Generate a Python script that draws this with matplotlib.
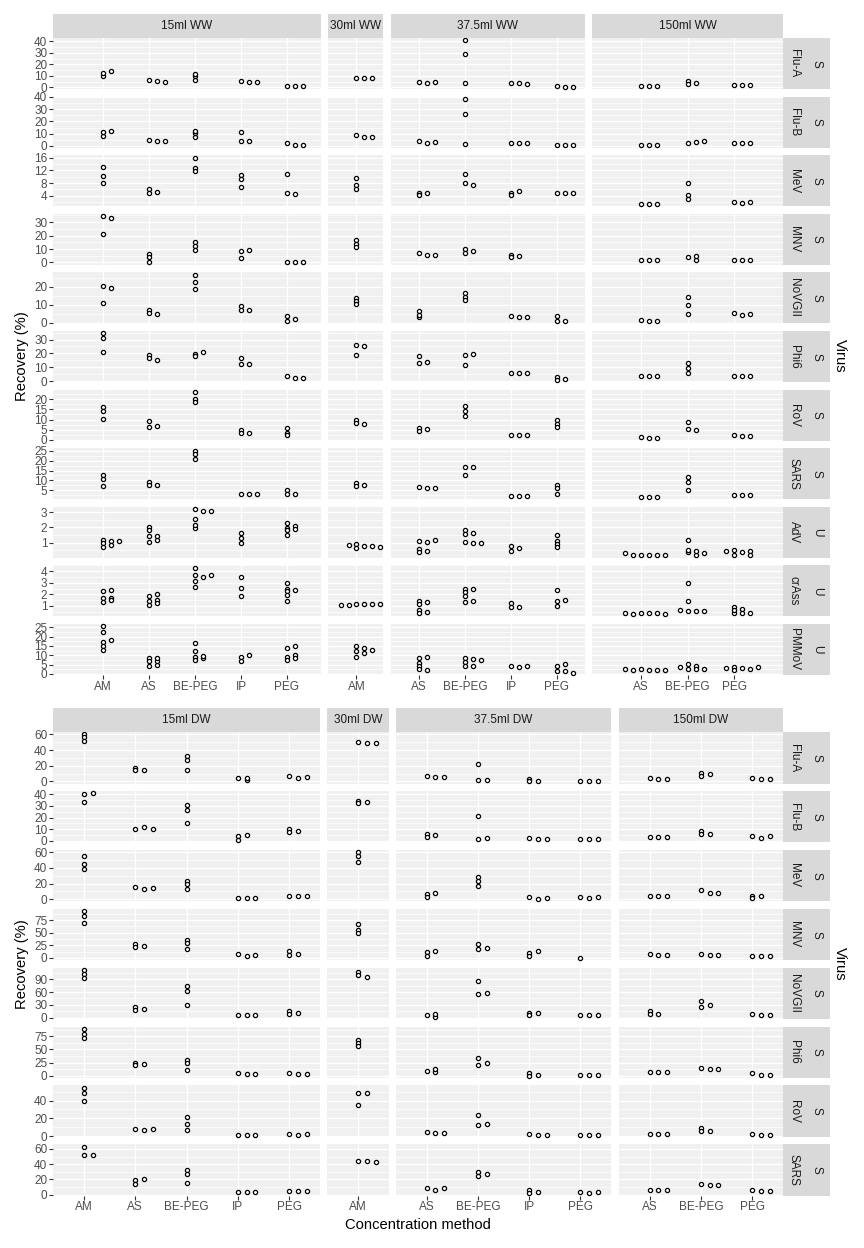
import numpy as np
import matplotlib.pyplot as plt

plt.rcParams['font.family'] = ['Liberation Sans', 'DejaVu Sans']

W, H = 864, 1248

VOLUMES = ["15ml", "30ml", "37.5ml", "150ml"]
METHODS = {
    "15ml": ["AM", "AS", "BE-PEG", "IP", "PEG"],
    "30ml": ["AM"],
    "37.5ml": ["AS", "BE-PEG", "IP", "PEG"],
    "150ml": ["AS", "BE-PEG", "PEG"],
}

# ---------------- wastewater (WW) ----------------
WW_VIRUSES = ["Flu-A", "Flu-B", "MeV", "MNV", "NoVGII", "Phi6", "RoV", "SARS", "AdV", "crAss", "PMMoV"]
WW_TYPES = ["S", "S", "S", "S", "S", "S", "S", "S", "U", "U", "U"]

FLUA_WW = {
    "15ml": {"AM": [9.5, 12.5, 14.0], "AS": [6.5, 5.5, 5.0], "BE-PEG": [6.0, 9.5, 11.7], "IP": [5.5, 5.0, 5.0], "PEG": [1.5, 1.0, 1.0]},
    "30ml": {"AM": [8.0, 8.0, 8.0]},
    "37.5ml": {"AS": [5.0, 4.0, 4.5], "BE-PEG": [41.0, 29.0, 3.5], "IP": [3.5, 3.5, 3.0], "PEG": [1.0, 0.5, 0.5]},
    "150ml": {"AS": [1.0, 1.0, 1.0], "BE-PEG": [5.5, 4.0, 3.0], "PEG": [2.0, 2.0, 2.0]},
}
FLUB_WW = {
    "15ml": {"AM": [8.0, 11.5, 12.5], "AS": [4.5, 4.0, 4.0], "BE-PEG": [7.0, 10.5, 12.5], "IP": [11.0, 4.0, 4.0], "PEG": [2.2, 0.8, 0.8]},
    "30ml": {"AM": [8.5, 7.5, 7.5]},
    "37.5ml": {"AS": [4.0, 2.5, 3.0], "BE-PEG": [38.4, 26.0, 1.6], "IP": [2.0, 2.0, 2.0], "PEG": [1.0, 0.8, 0.8]},
    "150ml": {"AS": [0.5, 0.5, 0.5], "BE-PEG": [2.5, 3.5, 4.0], "PEG": [2.0, 2.0, 2.5]},
}
MEV_WW = {
    "15ml": {"AM": [13.2, 10.1, 8.0], "AS": [6.0, 5.0, 5.3], "BE-PEG": [16.1, 12.9, 11.8], "IP": [10.5, 9.4, 6.7], "PEG": [11.0, 5.0, 4.4]},
    "30ml": {"AM": [9.7, 7.3, 6.2]},
    "37.5ml": {"AS": [5.0, 4.2, 4.7], "BE-PEG": [10.8, 7.9, 7.4], "IP": [5.0, 4.2, 5.6], "PEG": [5.0, 5.0, 5.0]},
    "150ml": {"AS": [1.4, 1.4, 1.4], "BE-PEG": [7.9, 4.2, 2.8], "PEG": [2.0, 1.8, 2.0]},
}
MNV_WW = {
    "15ml": {"AM": [34.4, 33.2, 21.4], "AS": [6.4, 4.4, 0.0], "BE-PEG": [15.0, 12.5, 9.0], "IP": [8.6, 3.0, 9.6], "PEG": [0.7, 0.7, 0.7]},
    "30ml": {"AM": [16.5, 14.0, 11.5]},
    "37.5ml": {"AS": [6.9, 5.4, 5.4], "BE-PEG": [9.8, 7.4, 8.6], "IP": [5.6, 3.7, 4.6]},
    "150ml": {"AS": [2.0, 1.8, 2.0], "BE-PEG": [3.7, 2.0, 4.5], "PEG": [2.2, 2.2, 2.2]},
}
NOVGII_WW = {
    "15ml": {"AM": [20.4, 19.5, 11.1], "AS": [7.4, 5.6, 5.0], "BE-PEG": [26.7, 22.8, 18.9], "IP": [9.3, 7.4, 6.9], "PEG": [3.7, 1.0, 1.9]},
    "30ml": {"AM": [13.9, 12.0, 10.2]},
    "37.5ml": {"AS": [6.5, 3.3, 4.6], "BE-PEG": [16.5, 14.5, 12.5], "IP": [4.0, 3.3, 3.3], "PEG": [3.7, 1.3, 1.3]},
    "150ml": {"AS": [1.8, 1.0, 1.0], "BE-PEG": [14.4, 10.0, 5.2], "PEG": [5.5, 4.6, 4.8]},
}
PHI6_WW = {
    "15ml": {"AM": [34.5, 31.0, 21.1], "AS": [18.5, 16.5, 15.0], "BE-PEG": [19.7, 17.8, 21.1], "IP": [16.5, 12.2, 12.2], "PEG": [3.4, 2.2, 2.2]},
    "30ml": {"AM": [25.9, 25.0, 18.7]},
    "37.5ml": {"AS": [18.2, 13.0, 13.5], "BE-PEG": [18.5, 11.7, 19.5], "IP": [5.8, 5.8, 5.8], "PEG": [3.0, 1.0, 1.5]},
    "150ml": {"AS": [3.8, 3.8, 3.8], "BE-PEG": [13.2, 9.6, 5.5], "PEG": [3.5, 3.5, 3.5]},
}
ROV_WW = {
    "15ml": {"AM": [16.0, 14.0, 10.2], "AS": [9.4, 6.3, 6.9], "BE-PEG": [23.6, 20.2, 18.5], "IP": [5.0, 3.6, 3.3], "PEG": [5.8, 3.5, 2.3]},
    "30ml": {"AM": [9.9, 8.3, 8.0]},
    "37.5ml": {"AS": [5.8, 4.6, 5.2], "BE-PEG": [16.5, 14.0, 11.6], "IP": [2.5, 2.3, 2.5], "PEG": [9.9, 8.0, 6.3]},
    "150ml": {"AS": [1.3, 0.8, 0.8], "BE-PEG": [9.0, 5.5, 5.0], "PEG": [2.5, 2.0, 2.0]},
}
SARS_WW = {
    "15ml": {"AM": [12.5, 10.5, 7.4], "AS": [9.2, 7.9, 7.7], "BE-PEG": [25.0, 23.5, 21.0], "IP": [3.3, 3.3, 3.3], "PEG": [5.4, 3.4, 3.3]},
    "30ml": {"AM": [8.5, 7.5, 7.0]},
    "37.5ml": {"AS": [6.7, 6.0, 6.2], "BE-PEG": [16.6, 12.6, 17.0], "IP": [2.1, 2.1, 2.1], "PEG": [7.5, 6.0, 3.0]},
    "150ml": {"AS": [1.8, 1.8, 1.8], "BE-PEG": [11.6, 9.0, 5.0], "PEG": [2.8, 2.5, 2.5]},
}
ADV_WW = {
    "15ml": {"AM": [1.2, 0.94, 1.13, 0.74, 0.87, 1.13], "AS": [2.05, 1.85, 1.45, 1.05, 1.2, 1.45],
             "BE-PEG": [3.2, 3.05, 2.55, 1.98, 2.15, 3.07], "IP": [1.6, 1.3, 0.95],
             "PEG": [1.96, 2.28, 1.8, 1.5, 2.1, 1.9]},
    "30ml": {"AM": [0.93, 0.8, 0.62, 0.77, 0.85, 0.7]},
    "37.5ml": {"AS": [1.13, 1.06, 0.6, 0.35, 1.15, 0.45], "BE-PEG": [1.06, 1.8, 1.57, 0.96, 1.64, 1.0],
               "IP": [0.79, 0.47, 0.64], "PEG": [1.5, 1.13, 0.9, 0.72]},
    "150ml": {"AS": [0.21, 0.15, 0.15, 0.15, 0.15, 0.3], "BE-PEG": [1.2, 0.36, 0.21, 0.47, 0.32, 0.53],
              "PEG": [0.5, 0.36, 0.47, 0.2, 0.47, 0.21]},
}
CRASS_WW = {
    "15ml": {"AM": [1.67, 1.7, 2.3, 1.32, 1.5, 2.37], "AS": [1.87, 1.46, 1.09, 1.99, 1.5, 1.23],
             "BE-PEG": [3.67, 4.3, 3.5, 3.12, 2.63, 3.67], "IP": [3.5, 2.55, 1.85],
             "PEG": [2.45, 2.97, 2.25, 1.93, 1.46, 2.37]},
    "30ml": {"AM": [1.15, 1.15, 1.2, 1.1, 1.15, 1.1]},
    "37.5ml": {"AS": [0.62, 1.44, 1.15, 0.44, 1.35, 0.41], "BE-PEG": [2.45, 2.16, 1.87, 1.32, 1.4, 2.45],
               "IP": [1.23, 0.88, 0.9], "PEG": [2.37, 1.38, 1.0, 1.5]},
    "150ml": {"AS": [0.35, 0.35, 0.35, 0.29, 0.29, 0.35], "BE-PEG": [2.97, 1.4, 0.53, 0.53, 0.53, 0.6],
              "PEG": [0.35, 0.94, 0.65, 0.73, 0.35, 0.35]},
}
PMMOV_WW = {
    "15ml": {"AM": [25.5, 22.2, 17.0, 14.8, 13.1, 18.1], "AS": [8.3, 6.9, 4.5, 4.8, 7.0, 8.8],
             "BE-PEG": [16.5, 12.4, 9.3, 7.4, 8.3, 9.6], "IP": [9.3, 6.9, 10.3],
             "PEG": [13.8, 9.3, 7.6, 14.8, 10.3, 8.3]},
    "30ml": {"AM": [15.2, 14.0, 12.2, 11.4, 9.3, 13.0]},
    "37.5ml": {"AS": [8.6, 5.7, 4.1, 2.8, 9.3, 2.2], "BE-PEG": [8.3, 7.9, 6.2, 4.1, 7.4, 4.5],
               "IP": [4.1, 3.6, 4.1], "PEG": [4.5, 1.4, 5.3, 1.7, 0.7]},
    "150ml": {"AS": [2.6, 2.2, 2.2, 1.9, 2.2, 2.6], "BE-PEG": [2.8, 5.3, 4.1, 2.8, 2.8, 3.6],
              "PEG": [3.6, 3.1, 2.2, 2.8, 3.1, 3.6]},
}

WW_DATA = [FLUA_WW, FLUB_WW, MEV_WW, MNV_WW, NOVGII_WW, PHI6_WW, ROV_WW, SARS_WW, ADV_WW, CRASS_WW, PMMOV_WW]
WW_YTICKS = [[0, 10, 20, 30, 40], [0, 10, 20, 30, 40], [4, 8, 12, 16], [0, 10, 20, 30], [0, 10, 20],
             [0, 10, 20, 30], [0, 5, 10, 15, 20], [5, 10, 15, 20, 25], [1, 2, 3], [1, 2, 3, 4],
             [0, 5, 10, 15, 20, 25]]

# ---------------- drinking water (DW) ----------------
DW_VIRUSES = ["Flu-A", "Flu-B", "MeV", "MNV", "NoVGII", "Phi6", "RoV", "SARS"]
DW_TYPES = ["S"] * 8

FLUA_DW = {
    "15ml": {"AM": [60.0, 56.0, 51.0], "AS": [17.2, 14.2, 15.1], "BE-PEG": [32.3, 27.2, 15.1], "IP": [3.9, 1.3, 4.7], "PEG": [7.3, 4.7, 6.0]},
    "30ml": {"AM": [50.0, 49.0, 48.7]},
    "37.5ml": {"AS": [6.5, 5.6, 6.0], "BE-PEG": [22.0, 1.3, 2.2], "IP": [3.4, 0.4, 0.9], "PEG": [0.5, 0.5, 0.5]},
    "150ml": {"AS": [4.3, 3.4, 3.4], "BE-PEG": [10.8, 7.3, 9.0], "PEG": [3.9, 2.6, 2.6]},
}
FLUB_DW = {
    "15ml": {"AM": [40.0, 33.2, 40.9], "AS": [10.2, 11.6, 10.2], "BE-PEG": [30.7, 26.7, 15.3], "IP": [4.0, 0.6, 5.1], "PEG": [10.2, 7.4, 8.2]},
    "30ml": {"AM": [34.4, 32.4, 33.0]},
    "37.5ml": {"AS": [5.5, 3.5, 5.3], "BE-PEG": [21.3, 1.1, 2.0], "IP": [2.6, 1.1, 1.1], "PEG": [1.1, 1.1, 1.1]},
    "150ml": {"AS": [3.4, 3.4, 3.4], "BE-PEG": [8.2, 5.4, 6.2], "PEG": [4.5, 2.6, 4.0]},
}
MEV_DW = {
    "15ml": {"AM": [55.7, 45.5, 39.0], "AS": [15.4, 12.9, 14.2], "BE-PEG": [23.6, 19.3, 13.3], "IP": [1.3, 1.3, 1.3], "PEG": [3.9, 3.9, 3.9]},
    "30ml": {"AM": [60.0, 55.0, 47.2]},
    "37.5ml": {"AS": [6.9, 3.4, 8.6], "BE-PEG": [27.9, 22.7, 17.2], "IP": [2.6, 0.4, 1.7], "PEG": [2.6, 2.2, 2.6]},
    "150ml": {"AS": [4.3, 4.3, 4.3], "BE-PEG": [11.2, 8.6, 8.6], "PEG": [4.3, 1.3, 4.3]},
}
MNV_DW = {
    "15ml": {"AM": [93.3, 82.8, 68.5], "AS": [28.0, 21.5, 24.1], "BE-PEG": [35.9, 29.4, 17.6], "IP": [8.5, 4.6, 6.5], "PEG": [13.0, 6.5, 7.8]},
    "30ml": {"AM": [67.2, 55.4, 48.9]},
    "37.5ml": {"AS": [11.7, 3.3, 13.0], "BE-PEG": [28.0, 17.6, 19.6], "IP": [9.8, 4.6, 13.0], "PEG": [0.0]},
    "150ml": {"AS": [8.5, 6.0, 6.5], "BE-PEG": [8.5, 6.0, 6.5], "PEG": [4.6, 3.3, 4.6]},
}
NOVGII_DW = {
    "15ml": {"AM": [112.0, 102.0, 94.0], "AS": [24.5, 19.0, 21.3], "BE-PEG": [75.0, 62.4, 29.2], "IP": [5.5, 5.5, 5.5], "PEG": [15.8, 9.5, 11.8]},
    "30ml": {"AM": [108.0, 100.0, 96.0]},
    "37.5ml": {"AS": [5.5, 2.0, 7.9], "BE-PEG": [85.2, 55.2, 56.8], "IP": [11.8, 5.5, 11.8], "PEG": [7.0, 5.5, 5.5]},
    "150ml": {"AS": [15.0, 7.9, 7.9], "BE-PEG": [38.7, 25.3, 29.2], "PEG": [9.5, 7.0, 7.0]},
}
PHI6_DW = {
    "15ml": {"AM": [89.0, 80.0, 72.0], "AS": [25.0, 20.6, 23.0], "BE-PEG": [29.4, 25.0, 11.9], "IP": [6.2, 4.4, 4.4], "PEG": [6.2, 4.4, 4.4]},
    "30ml": {"AM": [68.8, 62.5, 57.5]},
    "37.5ml": {"AS": [9.4, 8.0, 12.5], "BE-PEG": [33.0, 21.3, 25.0], "IP": [6.2, 0.5, 2.5], "PEG": [2.5, 2.5, 2.5]},
    "150ml": {"AS": [7.5, 7.5, 7.5], "BE-PEG": [15.6, 12.5, 12.5], "PEG": [5.0, 2.5, 2.5]},
}
ROV_DW = {
    "15ml": {"AM": [54.3, 48.7, 40.0], "AS": [8.3, 7.2, 8.3], "BE-PEG": [21.1, 14.0, 7.5], "IP": [1.9, 1.9, 1.9], "PEG": [2.6, 1.9, 2.6]},
    "30ml": {"AM": [48.3, 48.3, 35.5]},
    "37.5ml": {"AS": [5.3, 3.4, 3.8], "BE-PEG": [23.4, 12.8, 14.0], "IP": [2.6, 1.9, 1.9], "PEG": [1.9, 1.9, 1.9]},
    "150ml": {"AS": [2.6, 2.6, 2.6], "BE-PEG": [9.0, 5.7, 6.4], "PEG": [2.6, 1.9, 1.9]},
}
SARS_DW = {
    "15ml": {"AM": [63.0, 52.7, 52.7], "AS": [19.9, 14.7, 21.1], "BE-PEG": [32.8, 26.8, 16.0], "IP": [3.0, 3.0, 3.0], "PEG": [4.7, 4.7, 4.7]},
    "30ml": {"AM": [44.5, 44.5, 43.5]},
    "37.5ml": {"AS": [9.0, 6.0, 8.2], "BE-PEG": [30.0, 27.0, 24.0], "IP": [6.0, 1.7, 3.9], "PEG": [3.9, 1.7, 3.9]},
    "150ml": {"AS": [6.0, 6.0, 6.0], "BE-PEG": [13.8, 12.5, 12.5], "PEG": [6.0, 4.7, 4.7]},
}

DW_DATA = [FLUA_DW, FLUB_DW, MEV_DW, MNV_DW, NOVGII_DW, PHI6_DW, ROV_DW, SARS_DW]
DW_YTICKS = [[0, 20, 40, 60], [0, 10, 20, 30, 40], [0, 20, 40, 60], [0, 25, 50, 75],
             [0, 30, 60, 90], [0, 25, 50, 75], [0, 20, 40], [0, 20, 40, 60]]

# ---------------- style / layout ----------------
PANEL_BG = "#F0F0F0"
STRIP_BG = "#D9D9D9"
TICK_COL = "#4D4D4D"
FS_TICK = 8.5
FS_TITLE = 10.6

fig = plt.figure(figsize=(W / 100, H / 100), dpi=100)
fig.patch.set_facecolor("white")


def px_axes(x0, x1, y0, y1):
    return fig.add_axes([x0 / W, 1 - y1 / H, (x1 - x0) / W, (y1 - y0) / H])


def jitter_offsets(vals, span):
    # simple deterministic spread so overlapping replicates stay visible
    thr = 0.045 * span
    step = 0.17
    order = [0, 1, 2, -1, 3, -2, 4]
    placed, offs = [], []
    for v in vals:
        off = 0.0
        for k in order:
            off = k * step
            if all(abs(v - pv) > thr for po, pv in placed if po == off):
                break
        placed.append((off, v))
        offs.append(off)
    return offs


def draw_block(data_rows, viruses, types, yticks_rows, col_bounds, col_xlims,
               row_top0, row_step, row_h, strip_y, suffix, strip_x1):
    n_rows = len(data_rows)
    for i, (rdata, yt) in enumerate(zip(data_rows, yticks_rows)):
        allv = [v for vol in rdata for m in rdata[vol] for v in rdata[vol][m]]
        lo, hi = min(allv), max(allv)
        span = hi - lo
        ylim = (lo - 0.05 * span, hi + 0.05 * span)
        y0 = row_top0 + i * row_step
        y1 = y0 + row_h
        step = yt[1] - yt[0]
        minor = [yt[0] - step / 2] + [t + step / 2 for t in yt]
        minor = [m for m in minor if ylim[0] <= m <= ylim[1]]
        for j, vol in enumerate(VOLUMES):
            x0, x1 = col_bounds[j]
            ax = px_axes(x0, x1, y0, y1)
            ax.set_facecolor(PANEL_BG)
            for s in ax.spines.values():
                s.set_visible(False)
            methods = METHODS[vol]
            ax.set_xlim(col_xlims[j])
            ax.set_ylim(ylim)
            ax.set_xticks(range(1, len(methods) + 1))
            ax.set_yticks(yt)
            ax.set_yticks(minor, minor=True)
            ax.set_axisbelow(True)
            ax.grid(which="major", color="white", lw=1.0)
            ax.grid(which="minor", axis="y", color="white", lw=0.5)
            ax.tick_params(which="minor", length=0)
            ax.tick_params(which="major", length=2.6, width=0.8, color="#333333",
                           labelsize=FS_TICK, labelcolor=TICK_COL, pad=1.5)
            for k, m in enumerate(methods):
                vals = rdata[vol].get(m, [])
                if not vals:
                    continue
                offs = jitter_offsets(vals, ylim[1] - ylim[0])
                xs = [k + 1 + o for o in offs]
                ax.scatter(xs, vals, s=9, facecolors="white", edgecolors="black",
                           linewidths=0.9, zorder=3, clip_on=False)
            if j == 0:
                ax.set_yticklabels([str(t) for t in yt])
            else:
                ax.tick_params(axis="y", left=False, labelleft=False)
            if i == n_rows - 1:
                ax.set_xticklabels(methods)
            else:
                ax.tick_params(axis="x", bottom=False, labelbottom=False)

        # right strip (virus + type)
        sx = px_axes(col_bounds[-1][1], strip_x1, y0, y1)
        sx.set_facecolor(STRIP_BG)
        sx.set_xticks([])
        sx.set_yticks([])
        for s in sx.spines.values():
            s.set_visible(False)
        sx.text(0.23, 0.5, viruses[i], rotation=270, ha="center", va="center",
                fontsize=FS_TICK, color="#1A1A1A", transform=sx.transAxes)
        sx.text(0.72, 0.5, types[i], rotation=270, ha="center", va="center",
                fontsize=FS_TICK, color="#1A1A1A", transform=sx.transAxes)

    # top strips
    for j, vol in enumerate(VOLUMES):
        x0, x1 = col_bounds[j]
        tx = px_axes(x0, x1, strip_y, strip_y + 24)
        tx.set_facecolor(STRIP_BG)
        tx.set_xticks([])
        tx.set_yticks([])
        for s in tx.spines.values():
            s.set_visible(False)
        tx.text(0.5, 0.5, f"{vol} {suffix}", ha="center", va="center",
                fontsize=FS_TICK, color="#1A1A1A", transform=tx.transAxes)


# WW block
draw_block(WW_DATA, WW_VIRUSES, WW_TYPES, WW_YTICKS,
           col_bounds=[(53, 321), (328, 383), (391, 585), (592, 783)],
           col_xlims=[(-0.087, 5.74), (0.38, 1.58), (0.385, 4.61), (-0.05, 4.04)],
           row_top0=38, row_step=58.6, row_h=51, strip_y=14, suffix="WW", strip_x1=830)

# DW block
draw_block(DW_DATA, DW_VIRUSES, DW_TYPES, DW_YTICKS,
           col_bounds=[(53, 320), (327, 389), (396, 611), (619, 783)],
           col_xlims=[(0.4, 5.6), (0.4, 1.6), (0.4, 4.6), (0.4, 3.6)],
           row_top0=732, row_step=58.9, row_h=51.5, strip_y=708, suffix="DW", strip_x1=830)

# axis titles
fig.text(22 / W, 1 - 356 / H, "Recovery (%)", rotation=90, ha="center", va="center", fontsize=FS_TITLE)
fig.text(22 / W, 1 - 964 / H, "Recovery (%)", rotation=90, ha="center", va="center", fontsize=FS_TITLE)
fig.text(840 / W, 1 - 356 / H, "Virus", rotation=270, ha="center", va="center", fontsize=FS_TITLE)
fig.text(840 / W, 1 - 964 / H, "Virus", rotation=270, ha="center", va="center", fontsize=FS_TITLE)
fig.text(418 / W, 1 - 1225 / H, "Concentration method", ha="center", va="center", fontsize=FS_TITLE)

fig.savefig("out.png", dpi=100, facecolor="white")
